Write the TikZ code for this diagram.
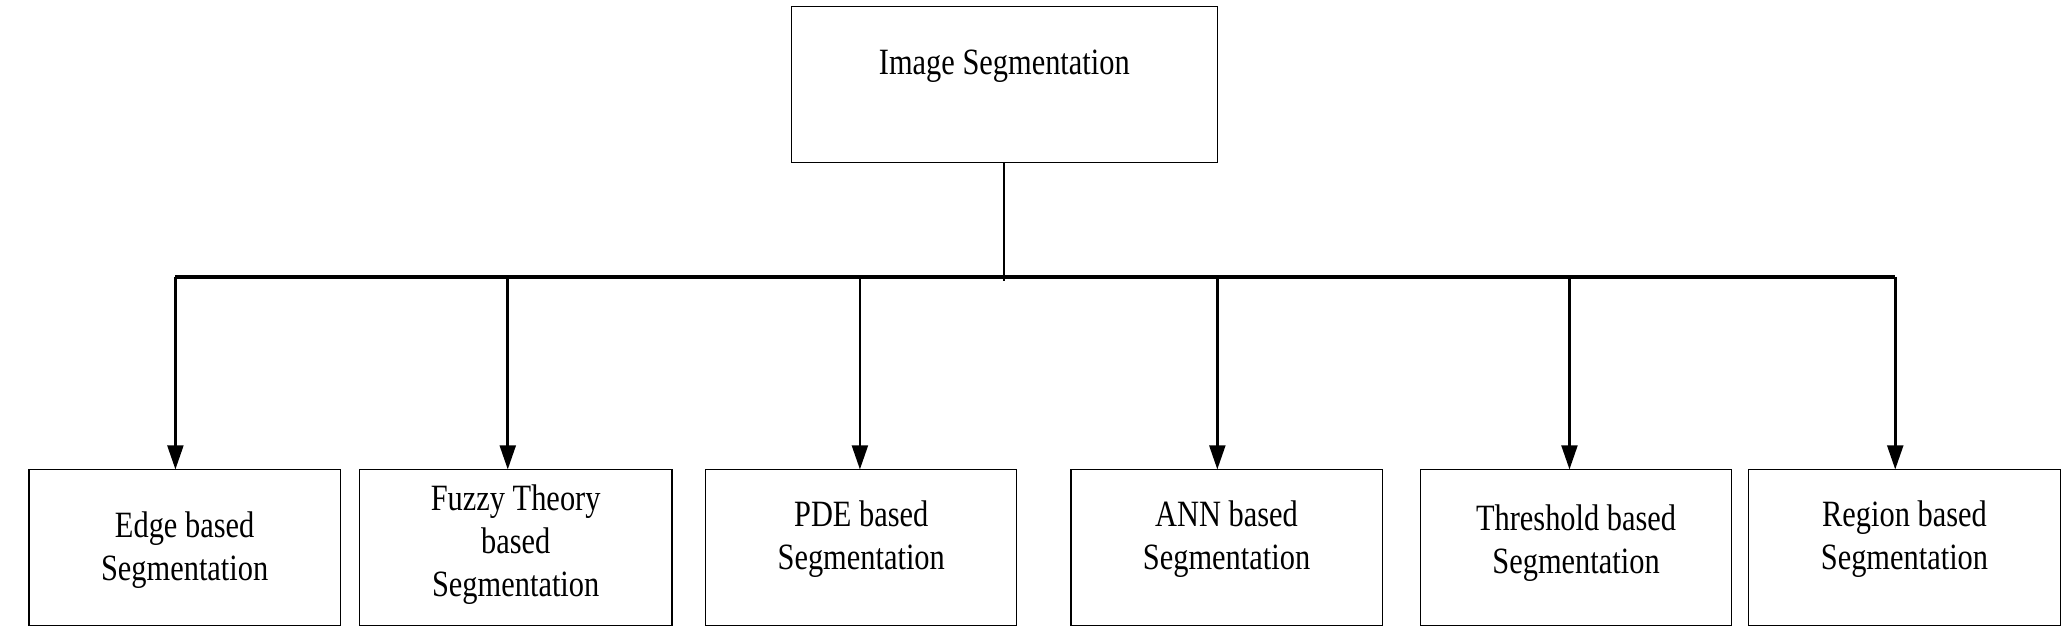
\documentclass[tikz,border=0pt]{standalone}
\usepackage{fontspec}
\setmainfont{Liberation Serif}[FakeStretch=0.82]
\usetikzlibrary{arrows.meta}

\begin{document}
\begin{tikzpicture}[x=0.03cm,y=-0.03cm,
	box/.style={draw,line width=0.8pt,inner sep=0pt},
	lbl/.style={align=center,font=\fontsize{24}{28}\selectfont},
	arr/.style={line width=1.8pt,-{Triangle[length=0.55cm,width=0.36cm]}}]
	\useasboundingbox (0,0) rectangle (1568,487);

	\node[box,minimum width=323*0.03cm,minimum height=118*0.03cm] (top) at (761.5,64) {};
	\node[lbl] (toplbl) at (761.5,50) {Image Segmentation};

	\coordinate (hub) at (top.south |- 0,213);
	\coordinate (busl) at (133,210);
	\coordinate (busr) at (1437,210);
	\draw[line width=1.2pt] (top.south) -- (hub);
	\draw[line width=3pt] (busl) -- (busr);

	\node[box,minimum width=236*0.03cm,minimum height=118*0.03cm] (b1) at (140,415) {};
	\node[box,minimum width=237*0.03cm,minimum height=118*0.03cm] (b2) at (391,415) {};
	\node[box,minimum width=236*0.03cm,minimum height=118*0.03cm] (b3) at (653,415) {};
	\node[box,minimum width=236*0.03cm,minimum height=118*0.03cm] (b4) at (930,415) {};
	\node[box,minimum width=236*0.03cm,minimum height=118*0.03cm] (b5) at (1195,415) {};
	\node[box,minimum width=237*0.03cm,minimum height=118*0.03cm] (b6) at (1444,415) {};

	\node[lbl] (l1) at (140,417) {Edge based\\Segmentation};
	\node[lbl] (l2) at (391,413) {Fuzzy Theory\\based\\Segmentation};
	\node[lbl] (l3) at (653,409) {PDE based\\Segmentation};
	\node[lbl] (l4) at (930,409) {ANN based\\Segmentation};
	\node[lbl] (l5) at (1195,412) {Threshold based\\Segmentation};
	\node[lbl] (l6) at (1444,409) {Region based\\Segmentation};

	\foreach \x/\b in {133/b1,385/b2,652/b3,923/b4,1190/b5,1437/b6}
		\draw[arr] (\x,210) -- (\x,356);
\end{tikzpicture}
\end{document}
